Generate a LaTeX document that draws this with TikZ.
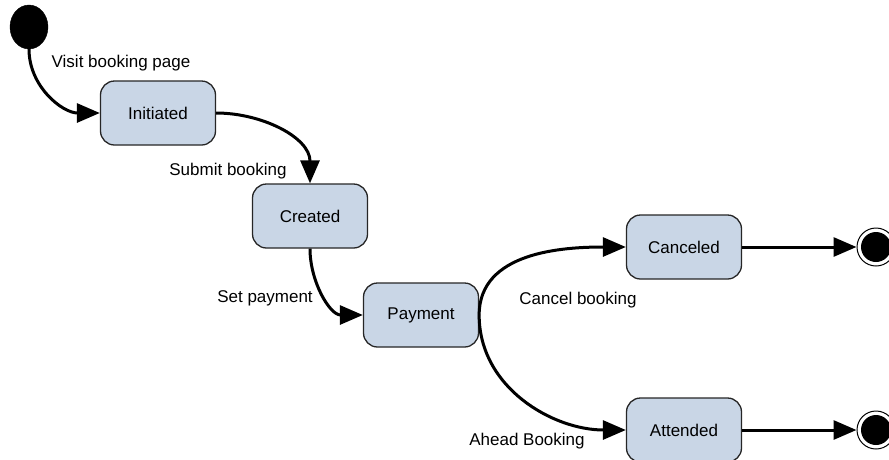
\documentclass[tikz,border=0pt]{standalone}
\usepackage{fontspec}
\setmainfont{Liberation Sans}
\usepackage{tikz}
\usetikzlibrary{shapes}
\usetikzlibrary{arrows.meta}
\definecolor{statusfill}{HTML}{C9D6E6}
\tikzset{status/.style={rectangle, rounded corners=14pt, draw=black!85, line width=1.3pt,
    fill=statusfill, minimum width=115pt, minimum height=64pt, font=\fontsize{17}{19}\selectfont}}
\tikzset{startdot/.style={ellipse, fill=black, draw=black, inner sep=0pt, minimum width=38pt, minimum height=44pt}}
\tikzset{enddot/.style={circle, draw=black, line width=1pt, fill=white, inner sep=0pt, minimum size=38pt,
    path picture={\fill[black] (path picture bounding box.center) circle (15pt);}}}
\tikzset{trans/.style={line width=3pt, -{Triangle[length=23pt,width=19pt]}}}
\tikzset{translab/.style={font=\fontsize{17}{19}\selectfont}}

\begin{document}
\begin{tikzpicture}[x=1pt,y=-1pt]
  \useasboundingbox (0,0) rectangle (889,459);
  \node[startdot] (start) at (29,27) {};
  \foreach \x/\y/\name/\lab in {
    158/113/Initiated/init,
    310/216/Created/created,
    421/315/Payment/pay,
    684/247/Canceled/cancel,
    684/430/Attended/attend%
  } {
    \node[status] (\lab) at (\x, \y) {\name};
  }
  \node[enddot] (endcancel) at (876,247) {};
  \node[enddot] (endattend) at (876,430) {};
  \foreach \x/\y/\name/\lab in {
    121/63/Visit booking page/visitlab,
    228/171/Submit booking/submitlab,
    265/298/Set payment/setlab,
    578/300/Cancel booking/cancellab,
    527/441/Ahead Booking/aheadlab%
  } {
    \node[translab] (\lab) at (\x, \y) {\name};
  }
  \draw[trans] (start.south) to[out=-90,in=180] (init.west);
  \draw[trans] (init.east) to[out=0,in=90] (created.north);
  \draw[trans] (created.south) to[out=-90,in=180] (pay.west);
  \draw[trans] (pay.east) to[out=90,in=180] (cancel.west);
  \draw[trans] (pay.east) to[out=-90,in=180] (attend.west);
  \draw[trans] (cancel) -- (endcancel);
  \draw[trans] (attend) -- (endattend);
\end{tikzpicture}
\end{document}
